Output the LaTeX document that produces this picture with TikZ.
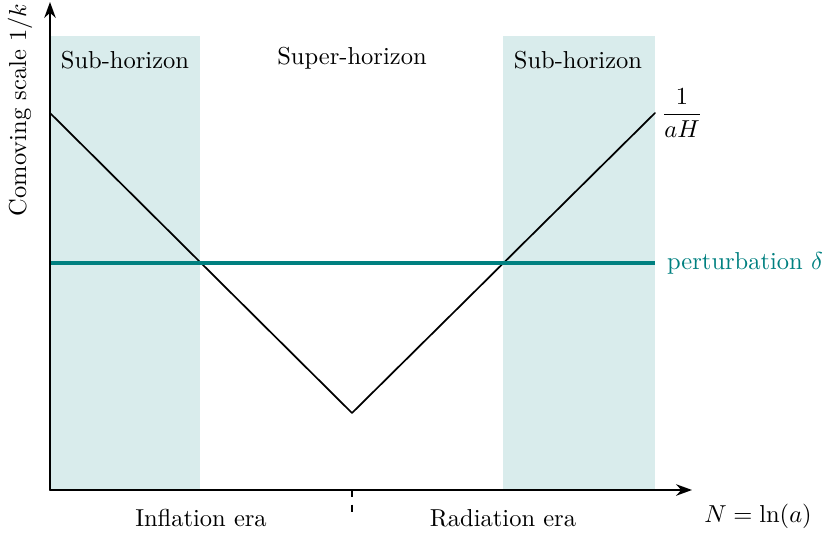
\documentclass[tikz,border=0pt]{standalone}
\usepackage{amsmath}
\usetikzlibrary{arrows.meta}

\begin{document}
\begin{tikzpicture}[x=0.408pt, y=-0.408pt, line cap=round, line join=round,
    axis/.style={line width=0.75pt, -{Stealth[length=6.5pt,width=4.7pt]}},
    band/.style={fill=teal!15, draw=none},
    curve/.style={line width=0.7pt},
    pert/.style={teal, line width=1.5pt, line cap=butt}]
  \useasboundingbox (0,0) rectangle (827,533);
  \coordinate (O) at (50,490);
  \coordinate (L) at (50,113);
  \coordinate (B) at (352,413);
  \coordinate (R) at (655,113);
  \fill[band] (50,36) rectangle (200,490);
  \fill[band] (503,36) rectangle (655,490);
  \draw[curve] (L) -- (B) -- (R);
  \coordinate (p1) at (50,263);
  \coordinate (p2) at (655,263);
  \draw[pert] (p1) -- (p2);
  \draw[axis] (O) -- (50,2) coordinate (ytip);
  \draw[axis] (O) -- (692,490) coordinate (xtip);
  \coordinate (t1) at (352,490);
  \coordinate (t2) at (352,514);
  \draw[line width=0.45pt, dash pattern=on 3pt off 3pt, line cap=butt] (t1) -- (t2);
  % labels
  \node[rotate=90] (ylab) at (20,110) {Comoving scale $1/k$};
  \node (sub1) at (125,60) {Sub-horizon};
  \node (sup) at (352,58) {Super-horizon};
  \node (sub2) at (578,60) {Sub-horizon};
  \node (aH) at (682,113) {$\dfrac{1}{aH}$};
  \node[teal] (delta) at (745,263) {perturbation $\delta$};
  \node (infl) at (201,518) {Inflation era};
  \node (rad) at (503,518) {Radiation era};
  \node (N) at (758,516) {$N=\ln(a)$};
\end{tikzpicture}
\end{document}
